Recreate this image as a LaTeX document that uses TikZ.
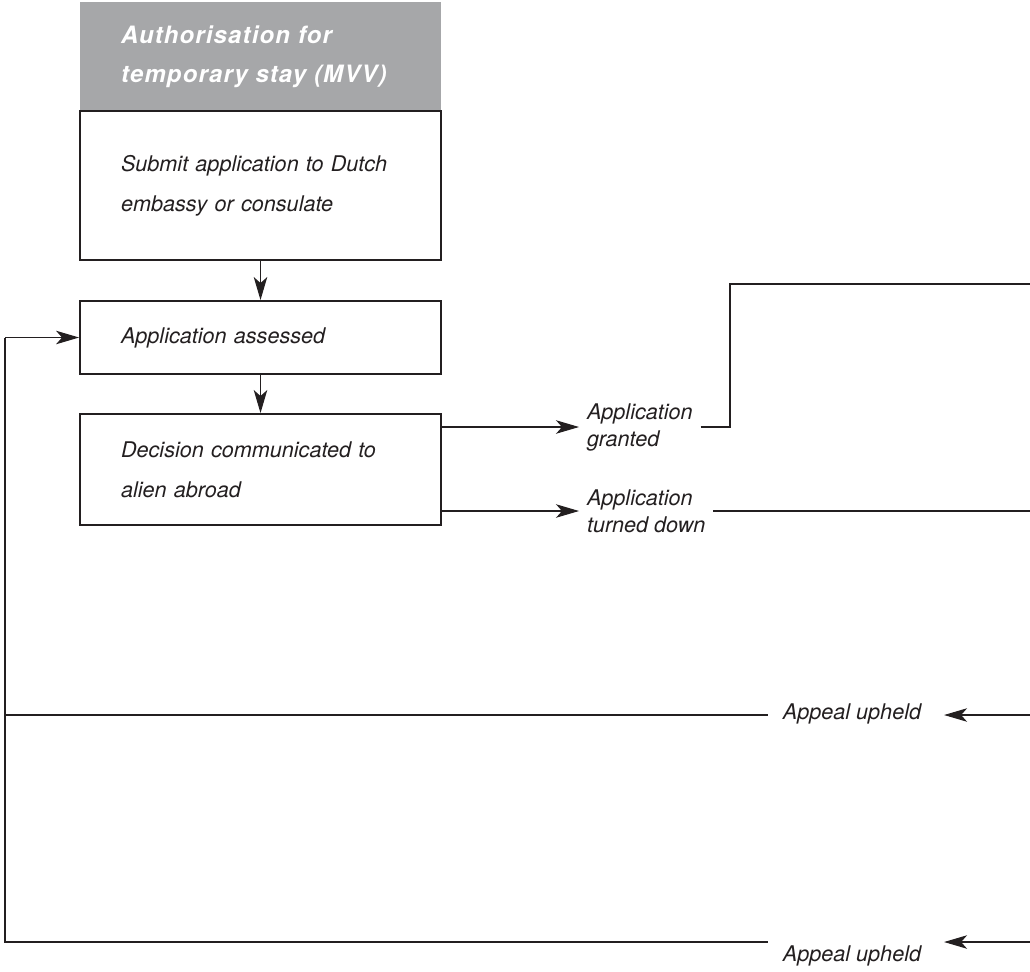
\documentclass[tikz,border=0pt]{standalone}
\usepackage{fontspec}
\setmainfont{TeX Gyre Heros}
\newfontfamily\headfont[LetterSpace=5]{TeX Gyre Heros}
\usepackage{xcolor}
\definecolor{headgray}{RGB}{166,167,169}
\definecolor{inkgray}{RGB}{35,31,32}
\usetikzlibrary{arrows.meta}

\begin{document}
\begin{tikzpicture}[x=0.02cm,y=-0.02cm,
  box/.style={draw=inkgray, line width=1.1pt, minimum width=7.22cm,
    text width=5.58cm, inner xsep=0.82cm, align=left, text=inkgray,
    font=\fontsize{12.3}{22.8}\selectfont\itshape},
  outcome/.style={inner sep=0pt, outer xsep=0.16cm, align=left, text=inkgray,
    font=\fontsize{12.3}{15.4}\selectfont\itshape},
  appeal/.style={outcome, outer xsep=0.3cm},
  wire/.style={draw=inkgray, line width=0.6pt},
  arr/.style={wire, -{Stealth[length=0.46cm, width=0.27cm, inset=0.12cm]}}]
  \useasboundingbox (0,0) rectangle (1030,971);

  \node[box, draw=none, fill=headgray, minimum height=2.22cm, text=white,
    font=\fontsize{13.6}{22.2}\selectfont\headfont\bfseries\itshape]
    (head) at (260.5,57) {Authorisation for\\temporary stay (MVV)};
  \node[box, minimum height=2.98cm] (submit) at (260.5,185.5)
    {Submit application to Dutch\\embassy or consulate};
  \node[box, minimum height=1.46cm] (assess) at (260.5,337.5)
    {Application assessed};
  \node[box, minimum height=2.22cm] (decide) at (260.5,469.5)
    {Decision communicated to\\alien abroad};

  \draw[arr] (submit) -- (assess);
  \draw[arr] (assess) -- (decide);

  \node[outcome, anchor=west] (granted) at (579,427) {Application\\granted};
  \node[outcome, anchor=west] (refused) at (579,511) {Application\\turned down};
  \draw[arr] (decide.east |- granted.west) -- (granted.west);
  \draw[arr] (decide.east |- refused.west) -- (refused.west);

  \coordinate (gcorner) at (730,284);
  \coordinate (gright) at (1030,284);
  \coordinate (rright) at (1030,512);
  \draw[wire] (granted.east) -| (gcorner) -- (gright);
  \draw[wire] (refused.east) -- (refused.east -| rright);

  % appeals coming back from the right
  \node[appeal] (upheld1) at (852,714) {Appeal upheld};
  \node[appeal] (upheld2) at (852,956) {Appeal upheld};
  \coordinate (ain1) at (1030,715);
  \coordinate (ain2) at (1030,942);
  \coordinate (ltop) at (5,337.5);
  \coordinate (lmid) at (5,715);
  \coordinate (lbot) at (5,942);
  \draw[arr, shorten >=0.16cm] (ain1) -- (upheld1.east |- ain1);
  \draw[arr, shorten >=0.16cm] (ain2) -- (upheld2.east |- ain2);
  \draw[wire] (upheld1.west |- lmid) -- (lmid);
  \draw[wire] (upheld2.west |- lbot) -- (lbot) -- (ltop);
  \draw[arr] (ltop) -- (assess.west);
\end{tikzpicture}
\end{document}
